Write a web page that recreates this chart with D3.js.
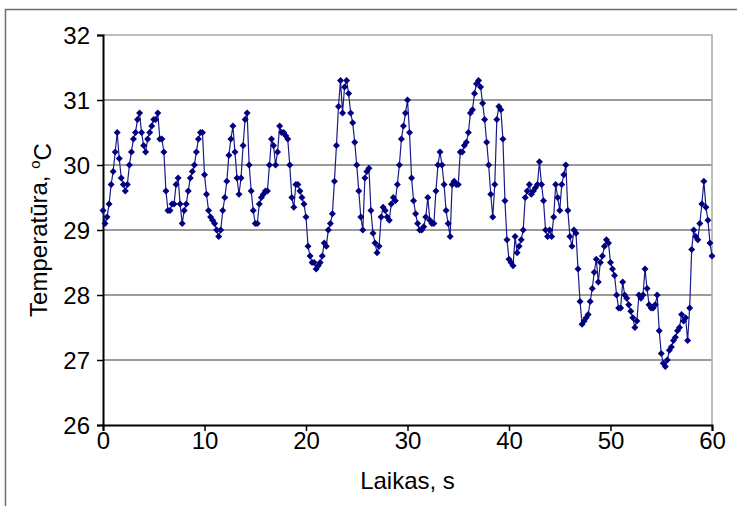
<!DOCTYPE html>
<html>
<head>
<meta charset="utf-8">
<script src="https://cdn.jsdelivr.net/npm/d3@7"></script>
<style>
  html, body { margin: 0; padding: 0; background: #fff; }
  svg { display: block; font-family: "Liberation Sans", Arial, sans-serif; }
</style>
</head>
<body>
<div class="container"></div>
<script>
// temperature read every 0.2 s, from 0 to 60 s
const step = 0.2;
const temps = [
  29.3, 29.1, 29.2, 29.4, 29.7, 29.9, 30.2, 30.5, 30.1, 29.8,
  29.7, 29.6, 29.7, 30.0, 30.2, 30.4, 30.5, 30.7, 30.8, 30.5,
  30.3, 30.2, 30.4, 30.5, 30.6, 30.7, 30.7, 30.8, 30.4, 30.4,
  30.2, 29.6, 29.3, 29.3, 29.4, 29.4, 29.7, 29.8, 29.4, 29.1,
  29.3, 29.4, 29.6, 29.8, 29.9, 30.0, 30.2, 30.4, 30.5, 30.5,
  29.85, 29.55, 29.3, 29.2, 29.15, 29.1, 29.0, 28.9, 29.0, 29.3,
  29.5, 29.75, 30.15, 30.4, 30.6, 30.2, 29.8, 29.55, 29.8, 30.3,
  30.7, 30.8, 30.0, 29.6, 29.3, 29.1, 29.1, 29.4, 29.5, 29.55,
  29.6, 29.6, 30.0, 30.4, 30.3, 30.0, 30.2, 30.6, 30.5, 30.5,
  30.45, 30.4, 30.0, 29.5, 29.35, 29.7, 29.7, 29.6, 29.5, 29.4,
  29.2, 28.75, 28.6, 28.5, 28.5, 28.4, 28.45, 28.5, 28.6, 28.8,
  28.75, 29.0, 29.1, 29.25, 29.75, 30.3, 30.9, 31.3, 30.8, 31.2,
  31.3, 31.1, 30.8, 30.65, 30.35, 30.0, 29.6, 29.2, 29.0, 29.8,
  29.9, 29.95, 29.3, 28.95, 28.8, 28.65, 28.75, 29.2, 29.35, 29.3,
  29.2, 29.15, 29.4, 29.5, 29.45, 29.7, 30.0, 30.4, 30.6, 30.8,
  31.0, 30.5, 29.8, 29.45, 29.25, 29.1, 29.0, 29.0, 29.05, 29.2,
  29.5, 29.15, 29.1, 29.1, 29.6, 30.0, 30.2, 30.0, 29.7, 29.3,
  29.1, 28.9, 29.7, 29.75, 29.7, 29.7, 30.2, 30.2, 30.3, 30.35,
  30.5, 30.8, 30.85, 31.1, 31.25, 31.3, 31.2, 30.95, 30.7, 30.35,
  30.0, 29.55, 29.2, 29.7, 30.7, 30.9, 30.85, 30.4, 29.45, 28.85,
  28.55, 28.5, 28.45, 28.9, 28.65, 28.75, 28.85, 29.0, 29.5, 29.6,
  29.7, 29.55, 29.6, 29.65, 29.7, 30.05, 29.7, 29.45, 29.0, 28.9,
  29.0, 28.9, 29.2, 29.7, 29.5, 29.3, 29.7, 29.85, 30.0, 29.3,
  28.9, 28.75, 29.0, 28.95, 28.4, 27.9, 27.55, 27.6, 27.65, 27.7,
  27.9, 28.1, 28.35, 28.55, 28.2, 28.5, 28.6, 28.75, 28.85, 28.8,
  28.5, 28.4, 28.3, 28.0, 27.8, 27.8, 28.2, 28.0, 27.95, 27.85,
  27.75, 27.65, 27.5, 27.6, 28.0, 27.95, 28.0, 28.4, 28.1, 27.85,
  27.8, 27.8, 27.85, 28.0, 27.45, 27.1, 26.95, 26.9, 27.0, 27.15,
  27.2, 27.3, 27.35, 27.45, 27.5, 27.7, 27.6, 27.65, 27.3, 27.8,
  28.7, 29.0, 28.9, 28.85, 29.1, 29.4, 29.75, 29.35, 29.15, 28.8,
  28.6
];
const xTicks = [0, 10, 20, 30, 40, 50, 60];
const yTicks = [26, 27, 28, 29, 30, 31, 32];

const data = temps.map((v, i) => ({ t: i * step, v: v }));

const width = 737;
const height = 506;
const margin = { left: 103, right: 25, top: 35, bottom: 81 };
const fontSize = "24px";

const svg = d3
  .select(".container")
  .append("svg")
  .attr("width", width)
  .attr("height", height);

// outer frame (only top and left edges show)
svg
  .append("path")
  .attr("d", "M5.5,506 L5.5,9.5 L737,9.5")
  .attr("fill", "none")
  .attr("stroke", "#6e6e6e")
  .attr("stroke-width", 1.5);

const xScale = d3
  .scaleLinear()
  .domain([0, 60])
  .range([margin.left, width - margin.right]);

const yScale = d3
  .scaleLinear()
  .domain([26, 32])
  .range([height - margin.bottom, margin.top]);

// grid lines
svg
  .append("g")
  .selectAll("line")
  .data(yTicks.filter(d => d > 26 && d < 32))
  .enter()
  .append("line")
  .attr("x1", xScale(0))
  .attr("x2", xScale(60))
  .attr("y1", d => yScale(d))
  .attr("y2", d => yScale(d))
  .attr("stroke", "#7a7a7a")
  .attr("stroke-width", 1.5);

// plot area border top/right
svg
  .append("path")
  .attr("d", `M${xScale(0)},${yScale(32)} L${xScale(60)},${yScale(32)} L${xScale(60)},${yScale(26)}`)
  .attr("fill", "none")
  .attr("stroke", "#a8a8a8")
  .attr("stroke-width", 1.5);

const xAxis = svg
  .append("g")
  .attr("transform", `translate(0,${yScale(26)})`)
  .call(d3.axisBottom(xScale).tickValues(xTicks).tickFormat(d3.format("d")).tickSize(6).tickPadding(1));

const yAxis = svg
  .append("g")
  .attr("transform", `translate(${xScale(0)},0)`)
  .call(d3.axisLeft(yScale).tickValues(yTicks).tickFormat(d3.format("d")).tickSize(6).tickPadding(7));

[xAxis, yAxis].forEach(ax => {
  ax.select(".domain").attr("stroke", "#000").attr("stroke-width", 2);
  ax.selectAll(".tick line").attr("stroke", "#000").attr("stroke-width", 1.5);
  ax.selectAll(".tick text")
    .attr("fill", "#000")
    .style("font-size", fontSize)
    .style("font-family", "'Liberation Sans', Arial, sans-serif");
});
yAxis.selectAll(".tick text").attr("dy", "0.35em");

// series line
const line = d3
  .line()
  .x(d => xScale(d.t))
  .y(d => yScale(d.v));

svg
  .append("path")
  .datum(data)
  .attr("d", line)
  .attr("fill", "none")
  .attr("stroke", "#1a1a8c")
  .attr("stroke-width", 1.2);

// diamond markers
svg
  .append("g")
  .selectAll("path")
  .data(data)
  .enter()
  .append("path")
  .attr("d", "M0,-3.5L3.5,0L0,3.5L-3.5,0Z")
  .attr("transform", d => `translate(${xScale(d.t)},${yScale(d.v)})`)
  .attr("fill", "#000080");

// axis titles
svg
  .append("text")
  .attr("x", (xScale(0) + xScale(60)) / 2)
  .attr("y", 489)
  .attr("text-anchor", "middle")
  .style("font-size", fontSize)
  .text("Laikas, s");

const yTitle = svg
  .append("text")
  .attr("transform", `translate(47,${(yScale(26) + yScale(32)) / 2}) rotate(-90)`)
  .attr("text-anchor", "middle")
  .style("font-size", fontSize);
yTitle.append("tspan").text("Temperatūra, ");
yTitle.append("tspan").attr("dy", "-0.45em").style("font-size", "15px").text("o");
yTitle.append("tspan").attr("dy", "0.45em").text("C");
</script>
</body>
</html>
